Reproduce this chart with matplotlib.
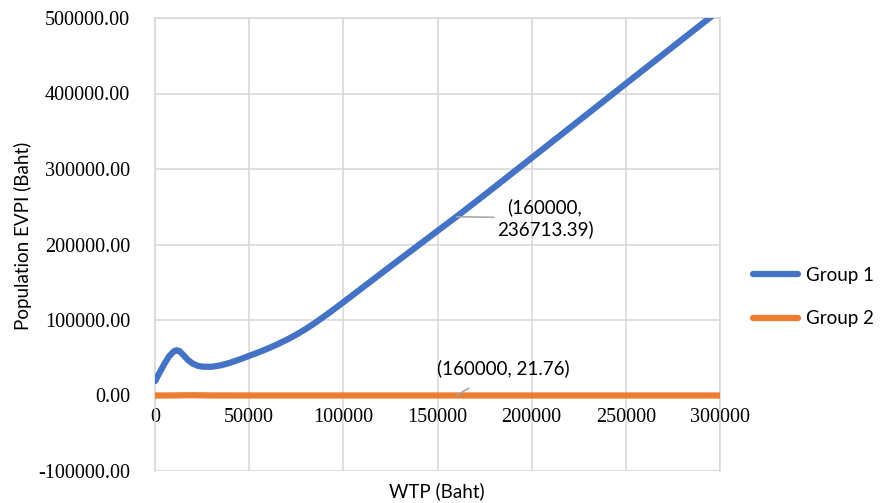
import matplotlib
matplotlib.use("Agg")
import matplotlib.pyplot as plt
from matplotlib.ticker import FuncFormatter, MultipleLocator

# ---- data ----
wtp_g1 = [0, 2500, 5000, 7500, 10000, 11500, 13000, 15000, 17500, 20000, 22500, 25000,
          30000, 35000, 40000, 45000, 50000, 55000, 60000, 65000, 70000, 75000, 80000,
          85000, 92500, 100000, 110000, 125000, 137500, 150000, 160000, 175000,
          200000, 225000, 250000, 275000, 300000]
evpi_g1 = [19000, 30500, 42000, 52000, 58500, 60000, 58800, 53800, 47000, 42300, 39500, 38200,
           38000, 40000, 43500, 47800, 52500, 57200, 62300, 67800, 73900, 80500, 88000,
           96200, 109500, 123500, 142500, 171000, 194500, 218000, 236713.39, 265700,
           314700, 363800, 413000, 462000, 511000]

wtp_g2 = [0, 10000, 15000, 20000, 25000, 30000, 50000, 100000, 160000, 200000, 250000, 300000]
evpi_g2 = [0, 80, 250, 350, 200, 80, 50, 30, 21.76, 15, 10, 8]

series_names = ["Group 1", "Group 2"]
ann_g1 = "(160000,\n236713.39)"
ann_g2 = "(160000, 21.76)"
x_label = "WTP (Baht)"
y_label = "Population EVPI (Baht)"

# ---- figure ----
fig = plt.figure(figsize=(8.8, 5.03), dpi=100)
ax = fig.add_axes([155/880, 1-471/503, (720-155)/880, (471-18)/503])

blue = "#4472C4"
orange = "#ED7D31"
grid_c = "#D9D9D9"

ax.plot(wtp_g2, evpi_g2, color=orange, lw=4.5, solid_capstyle="round",
        solid_joinstyle="round", zorder=3, label=series_names[1])
ax.plot(wtp_g1, evpi_g1, color=blue, lw=4.5, solid_capstyle="round",
        solid_joinstyle="round", zorder=4, label=series_names[0])

ax.set_xlim(0, 300000)
ax.set_ylim(-100000, 500000)
ax.xaxis.set_major_locator(MultipleLocator(50000))
ax.yaxis.set_major_locator(MultipleLocator(100000))
ax.grid(True, color=grid_c, lw=1.2, zorder=0)
ax.set_axisbelow(True)

for s in ["top", "right", "left"]:
    ax.spines[s].set_color(grid_c)
    ax.spines[s].set_linewidth(1.2)
ax.spines["bottom"].set_position(("data", 0))
ax.spines["bottom"].set_visible(False)

ax.yaxis.set_major_formatter(FuncFormatter(lambda v, p: f"{v:.2f}"))
ax.xaxis.set_major_formatter(FuncFormatter(lambda v, p: f"{int(v)}"))
ax.tick_params(axis="both", length=0, labelsize=14.5)
ax.tick_params(axis="y", pad=18)
ax.tick_params(axis="x", pad=9)
for lab in ax.get_xticklabels() + ax.get_yticklabels():
    lab.set_fontfamily("Liberation Serif")

# axis labels
fig.text(437/880, 1-491/503, x_label, ha="center", va="center",
         fontsize=13.5, family="Lato")
fig.text(23/880, 1-236/503, y_label, ha="center", va="center", rotation=90,
         fontsize=13.5, family="Lato")

# annotations
ax.annotate(ann_g1, xy=(160000, 236713.39), xytext=(545, 503-218),
            textcoords="figure pixels", ha="center", va="center",
            fontsize=13.5, family="Lato", linespacing=1.25,
            arrowprops=dict(arrowstyle="-", color="#A6A6A6", lw=1.2,
                            shrinkA=0, shrinkB=0),
            zorder=6)
ax.annotate(ann_g2, xy=(160000, 21.76), xytext=(503, 503-368),
            textcoords="figure pixels", ha="center", va="center",
            fontsize=13.5, family="Lato",
            arrowprops=dict(arrowstyle="-", color="#A6A6A6", lw=1.2,
                            shrinkA=12, shrinkB=0),
            zorder=6)

# legend
leg = fig.legend(handles=[ax.lines[1], ax.lines[0]], labels=series_names,
                 loc="center left", bbox_to_anchor=(738/880, 1-297/503),
                 frameon=False, prop={"family": "Lato", "size": 13.5},
                 handlelength=2.4, labelspacing=1.4, handletextpad=0.45,
                 borderpad=0.3)

fig.savefig("out.png", dpi=100)
